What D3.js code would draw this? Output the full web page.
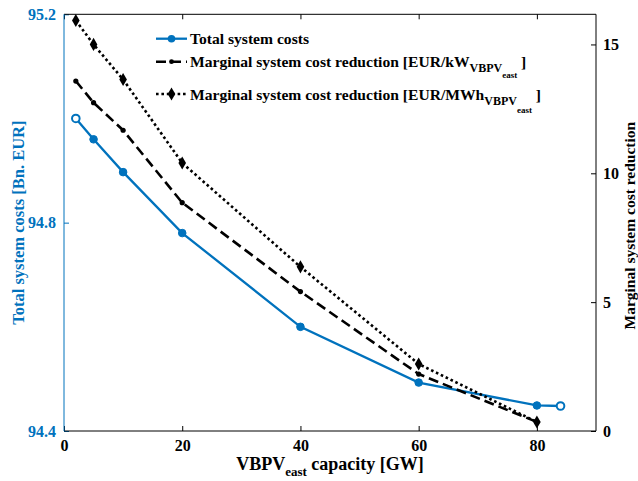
<!DOCTYPE html>
<html>
<head>
<meta charset="utf-8">
<script src="https://cdn.jsdelivr.net/npm/d3@7"></script>
<style>
  html, body { margin: 0; padding: 0; background: #fff; }
  svg { display: block; font-family: "Liberation Serif", "Times New Roman", serif; font-weight: bold; }
</style>
</head>
<body>
<svg id="chart" width="638" height="481"></svg>
<script>
// VBPV east capacity [GW]
const capacityGW = [2, 5, 10, 20, 40, 60, 80, 84];
// Total system costs [Bn. EUR]
const totalCosts = [95.00, 94.96, 94.897, 94.78, 94.60, 94.493, 94.449, 94.448];
// Marginal system cost reduction, EUR/kW and EUR/MWh (defined up to 80 GW)
const marginalCapacity = [2, 5, 10, 20, 40, 60, 80];
const marginalPerKW = [13.58, 12.74, 11.67, 8.86, 5.41, 2.21, 0.35];
const marginalPerMWh = [15.93, 15.0, 13.64, 10.40, 6.37, 2.60, 0.35];

const xTicks = [0, 20, 40, 60, 80];
const yLeftTicks = [94.4, 94.8, 95.2];
const yRightTicks = [0, 5, 10, 15];

const BLUE = "#0072BD";
const FONT = "Liberation Serif";
const svg = d3.select("#chart");
const m = { left: 64, right: 596, top: 14.3, bottom: 431 };

const x = d3.scaleLinear().domain([0, 90]).range([m.left, m.right]);
const yL = d3.scaleLinear().domain([94.4, 95.2]).range([m.bottom, m.top]);
const yR = d3.scaleLinear().domain([0, 16.17]).range([m.bottom, m.top]);

const tickLen = 5;
const tickFont = 16;

// bottom axis (ticks point inward)
const xAxis = svg.append("g").attr("transform", `translate(0,${m.bottom})`)
  .call(d3.axisBottom(x).tickValues(xTicks).tickFormat(d3.format("d")).tickSize(-tickLen).tickPadding(9));
xAxis.select(".domain").remove();
xAxis.selectAll("text").attr("font-size", tickFont).attr("font-family", FONT).attr("font-weight", "bold").attr("fill", "#000");
xAxis.selectAll("line").attr("stroke", "#000");

// top mirrored ticks
svg.append("g").attr("transform", `translate(0,${m.top})`)
  .call(d3.axisTop(x).tickValues(xTicks).tickFormat("").tickSize(-tickLen))
  .call(g => g.select(".domain").remove())
  .selectAll("line").attr("stroke", "#000");

// left axis (blue)
const yLAxis = svg.append("g").attr("transform", `translate(${m.left},0)`)
  .call(d3.axisLeft(yL).tickValues(yLeftTicks).tickFormat(d3.format(".1f")).tickSize(-tickLen).tickPadding(8));
yLAxis.select(".domain").remove();
yLAxis.selectAll("line").attr("stroke", BLUE);
yLAxis.selectAll("text").attr("font-size", tickFont).attr("font-family", FONT).attr("font-weight", "bold").attr("fill", BLUE);

// right axis
const yRAxis = svg.append("g").attr("transform", `translate(${m.right},0)`)
  .call(d3.axisRight(yR).tickValues(yRightTicks).tickFormat(d3.format("d")).tickSize(-tickLen).tickPadding(7));
yRAxis.select(".domain").remove();
yRAxis.selectAll("line").attr("stroke", "#000");
yRAxis.selectAll("text").attr("font-size", tickFont).attr("font-family", FONT).attr("font-weight", "bold").attr("fill", "#000");

// frame
svg.append("line").attr("x1", m.left).attr("x2", m.right).attr("y1", m.bottom).attr("y2", m.bottom).attr("stroke", "#000");
svg.append("line").attr("x1", m.left).attr("x2", m.right).attr("y1", m.top).attr("y2", m.top).attr("stroke", "#000");
svg.append("line").attr("x1", m.right).attr("x2", m.right).attr("y1", m.top).attr("y2", m.bottom).attr("stroke", "#000");
svg.append("line").attr("x1", m.left).attr("x2", m.left).attr("y1", m.top).attr("y2", m.bottom).attr("stroke", BLUE);

// axis titles
svg.append("text").attr("transform", `translate(24,${(m.top + m.bottom) / 2}) rotate(-90)`)
  .attr("text-anchor", "middle").attr("font-size", 16.5).attr("fill", BLUE)
  .text("Total system costs [Bn. EUR]");
svg.append("text").attr("transform", `translate(635,${(m.top + m.bottom) / 2 + 3}) rotate(-90)`)
  .attr("text-anchor", "middle").attr("font-size", 15.5).attr("fill", "#000")
  .text("Marginal system cost reduction");
const xt = svg.append("text").attr("x", (m.left + m.right) / 2).attr("y", 470)
  .attr("text-anchor", "middle").attr("font-size", 18).attr("fill", "#000");
xt.append("tspan").text("VBPV");
xt.append("tspan").attr("font-size", 13).attr("dy", 6).text("east");
xt.append("tspan").attr("dy", -6).text(" capacity [GW]");

// series
const lineTotal = d3.line().x((d, i) => x(capacityGW[i])).y(d => yL(d));
const lineMarg = d3.line().x((d, i) => x(marginalCapacity[i])).y(d => yR(d));

svg.append("path").datum(totalCosts).attr("d", lineTotal)
  .attr("fill", "none").attr("stroke", BLUE).attr("stroke-width", 2.3);
svg.append("path").datum(marginalPerKW).attr("d", lineMarg)
  .attr("fill", "none").attr("stroke", "#000").attr("stroke-width", 2.6).attr("stroke-dasharray", "10,5");
svg.append("path").datum(marginalPerMWh).attr("d", lineMarg)
  .attr("fill", "none").attr("stroke", "#000").attr("stroke-width", 2.6).attr("stroke-dasharray", "2.6,2.8");

// markers
svg.append("g").selectAll("circle").data(totalCosts).join("circle")
  .attr("cx", (d, i) => x(capacityGW[i])).attr("cy", d => yL(d)).attr("r", 3.8)
  .attr("fill", (d, i) => (i === 0 || i === totalCosts.length - 1) ? "#fff" : BLUE)
  .attr("stroke", BLUE).attr("stroke-width", (d, i) => (i === 0 || i === totalCosts.length - 1) ? 2 : 1);
svg.append("g").selectAll("circle").data(marginalPerKW).join("circle")
  .attr("cx", (d, i) => x(marginalCapacity[i])).attr("cy", d => yR(d)).attr("r", 2.6).attr("fill", "#000");
const diamond = d3.symbol().type(d3.symbolDiamond).size(50);
svg.append("g").selectAll("path").data(marginalPerMWh).join("path")
  .attr("transform", (d, i) => `translate(${x(marginalCapacity[i])},${yR(d)})`)
  .attr("d", diamond).attr("fill", "#000");

// legend
const lg = svg.append("g");
const lx0 = 156, lx1 = 187, lmid = 171.5, ltx = 190;
const rows = [38.7, 61.7, 94];
const legFont = 15.6;
lg.append("line").attr("x1", lx0).attr("x2", lx1).attr("y1", rows[0]).attr("y2", rows[0]).attr("stroke", BLUE).attr("stroke-width", 2.3);
lg.append("circle").attr("cx", lmid).attr("cy", rows[0]).attr("r", 3.8).attr("fill", BLUE);
lg.append("line").attr("x1", lx0).attr("x2", lx1).attr("y1", rows[1]).attr("y2", rows[1]).attr("stroke", "#000").attr("stroke-width", 2.6).attr("stroke-dasharray", "10,5");
lg.append("circle").attr("cx", lmid).attr("cy", rows[1]).attr("r", 2.4).attr("fill", "#000");
lg.append("line").attr("x1", lx0).attr("x2", lx1).attr("y1", rows[2]).attr("y2", rows[2]).attr("stroke", "#000").attr("stroke-width", 2.6).attr("stroke-dasharray", "2.6,2.8");
lg.append("path").attr("transform", `translate(${lmid},${rows[2]})`).attr("d", diamond).attr("fill", "#000");

lg.append("text").attr("x", ltx).attr("y", rows[0] + 5.5).attr("font-size", legFont).text("Total system costs");
const t2 = lg.append("text").attr("x", ltx).attr("y", rows[1] + 5.5).attr("font-size", legFont);
t2.append("tspan").text("Marginal system cost reduction [EUR/kW");
t2.append("tspan").attr("font-size", 12).attr("dy", 5).text("VBPV");
t2.append("tspan").attr("font-size", 9).attr("dy", 6).text("east");
t2.append("tspan").attr("dy", -11).text(" ]");
const t3 = lg.append("text").attr("x", ltx).attr("y", rows[2] + 5.5).attr("font-size", legFont);
t3.append("tspan").text("Marginal system cost reduction [EUR/MWh");
t3.append("tspan").attr("font-size", 12).attr("dy", 5).text("VBPV");
t3.append("tspan").attr("font-size", 9).attr("dy", 8).text("east");
t3.append("tspan").attr("dy", -13).text(" ]");
</script>
</body>
</html>
